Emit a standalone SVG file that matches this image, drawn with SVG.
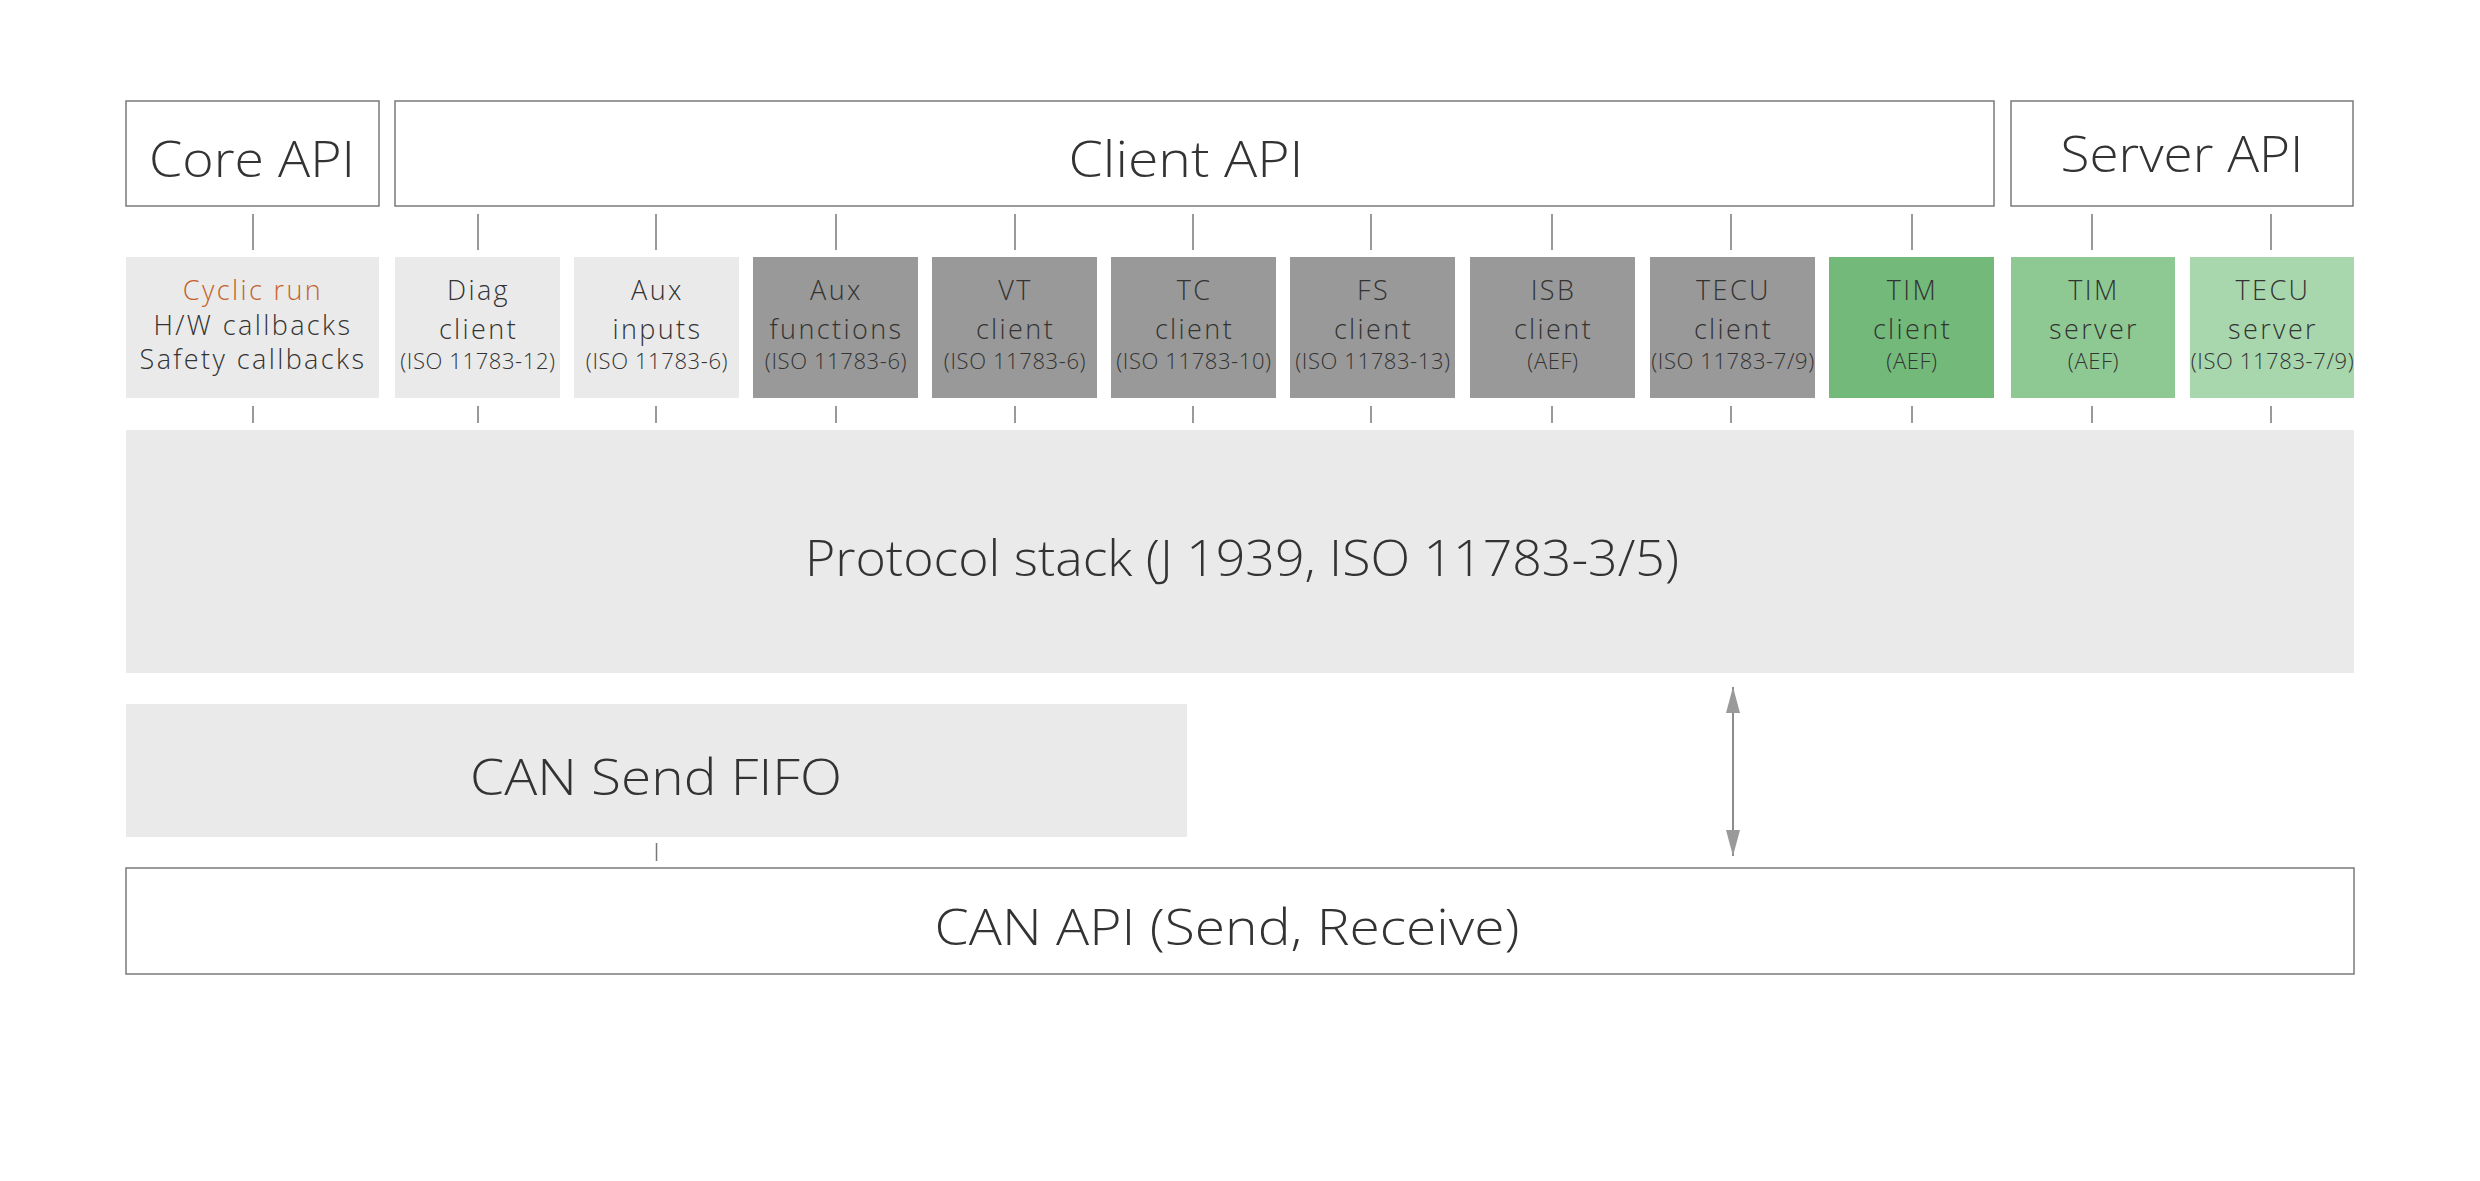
<svg xmlns="http://www.w3.org/2000/svg" width="2480" height="1181" viewBox="0 0 2480 1181">
<style>
.frame{fill:#ffffff;stroke:#7a7a7a;stroke-width:1.5}
.light{fill:#eaeaea}
.dark{fill:#999999}
.g1{fill:#72b97a}
.g2{fill:#8ec993}
.g3{fill:#a9d7ad}
text{font-family:"Open Sans","Liberation Sans",sans-serif;font-weight:300;fill:#333333;text-anchor:middle}
.big{font-size:49px}
.mid{font-size:27px;letter-spacing:2.4px}
.sm{font-size:22px;letter-spacing:0.6px}
.orange{fill:#c4622d}
.conn line{stroke:#777777;stroke-width:1.5}
</style>
<defs>
<marker id="ah" markerWidth="26" markerHeight="14" refX="26" refY="7" orient="auto-start-reverse" markerUnits="userSpaceOnUse">
<path d="M0,0 L26,7 L0,14 Z" fill="#9a9a9a"/>
</marker>
</defs>
<rect width="2480" height="1181" fill="#ffffff"/>

<g id="core-api"><rect class="frame" x="126" y="101" width="253" height="105"/><text class="big" x="252" y="177" textLength="206" lengthAdjust="spacingAndGlyphs">Core API</text></g>
<g id="client-api"><rect class="frame" x="395" y="101" width="1599" height="105"/><text class="big" x="1186" y="177" textLength="235" lengthAdjust="spacingAndGlyphs">Client API</text></g>
<g id="server-api"><rect class="frame" x="2011" y="101" width="342" height="105"/><text class="big" x="2182" y="172" textLength="243" lengthAdjust="spacingAndGlyphs">Server API</text></g>

<g id="core-functions"><rect class="light" x="126" y="257" width="253" height="141"/>
<text class="mid orange" x="253" y="300">Cyclic run</text>
<text class="mid" x="253" y="335">H/W callbacks</text>
<text class="mid" x="253" y="369">Safety callbacks</text></g>

<g id="diag-client"><rect class="light" x="395" y="257" width="165" height="141"/>
<text class="mid" x="478.5" y="300">Diag</text><text class="mid" x="478.5" y="339">client</text><text class="sm" x="478" y="369">(ISO 11783-12)</text></g>
<g id="aux-inputs"><rect class="light" x="574" y="257" width="165" height="141"/>
<text class="mid" x="657.5" y="300">Aux</text><text class="mid" x="657.5" y="339">inputs</text><text class="sm" x="657" y="369">(ISO 11783-6)</text></g>
<g id="aux-functions"><rect class="dark" x="753" y="257" width="165" height="141"/>
<text class="mid" x="836.5" y="300">Aux</text><text class="mid" x="836.5" y="339">functions</text><text class="sm" x="836" y="369">(ISO 11783-6)</text></g>
<g id="vt-client"><rect class="dark" x="932" y="257" width="165" height="141"/>
<text class="mid" x="1015.5" y="300">VT</text><text class="mid" x="1015.5" y="339">client</text><text class="sm" x="1015" y="369">(ISO 11783-6)</text></g>
<g id="tc-client"><rect class="dark" x="1111" y="257" width="165" height="141"/>
<text class="mid" x="1194.5" y="300">TC</text><text class="mid" x="1194.5" y="339">client</text><text class="sm" x="1194" y="369">(ISO 11783-10)</text></g>
<g id="fs-client"><rect class="dark" x="1290" y="257" width="165" height="141"/>
<text class="mid" x="1373.5" y="300">FS</text><text class="mid" x="1373.5" y="339">client</text><text class="sm" x="1373" y="369">(ISO 11783-13)</text></g>
<g id="isb-client"><rect class="dark" x="1470" y="257" width="165" height="141"/>
<text class="mid" x="1553.5" y="300">ISB</text><text class="mid" x="1553.5" y="339">client</text><text class="sm" x="1553" y="369">(AEF)</text></g>
<g id="tecu-client"><rect class="dark" x="1650" y="257" width="165" height="141"/>
<text class="mid" x="1733.5" y="300">TECU</text><text class="mid" x="1733.5" y="339">client</text><text class="sm" x="1733" y="369">(ISO 11783-7/9)</text></g>
<g id="tim-client"><rect class="g1" x="1829" y="257" width="165" height="141"/>
<text class="mid" x="1912.5" y="300">TIM</text><text class="mid" x="1912.5" y="339">client</text><text class="sm" x="1912" y="369">(AEF)</text></g>
<g id="tim-server"><rect class="g2" x="2011" y="257" width="164" height="141"/>
<text class="mid" x="2094" y="300">TIM</text><text class="mid" x="2094" y="339">server</text><text class="sm" x="2093.5" y="369">(AEF)</text></g>
<g id="tecu-server"><rect class="g3" x="2190" y="257" width="164" height="141"/>
<text class="mid" x="2273" y="300">TECU</text><text class="mid" x="2273" y="339">server</text><text class="sm" x="2272.5" y="369">(ISO 11783-7/9)</text></g>

<g id="protocol-stack"><rect class="light" x="126" y="430" width="2228" height="243"/><text class="big" x="1242" y="576" textLength="874" lengthAdjust="spacingAndGlyphs">Protocol stack (J 1939, ISO 11783-3/5)</text></g>
<g id="can-send-fifo"><rect class="light" x="126" y="704" width="1061" height="133"/><text class="big" x="656" y="795" textLength="372" lengthAdjust="spacingAndGlyphs">CAN Send FIFO</text></g>
<g id="can-api"><rect class="frame" x="126" y="868" width="2228" height="106"/><text class="big" x="1227" y="945" textLength="585" lengthAdjust="spacingAndGlyphs">CAN API (Send, Receive)</text></g>

<g id="connectors" class="conn">
<line x1="253" y1="214" x2="253" y2="250"/><line x1="478" y1="214" x2="478" y2="250"/><line x1="656" y1="214" x2="656" y2="250"/>
<line x1="836" y1="214" x2="836" y2="250"/><line x1="1015" y1="214" x2="1015" y2="250"/><line x1="1193" y1="214" x2="1193" y2="250"/>
<line x1="1371" y1="214" x2="1371" y2="250"/><line x1="1552" y1="214" x2="1552" y2="250"/><line x1="1731" y1="214" x2="1731" y2="250"/>
<line x1="1912" y1="214" x2="1912" y2="250"/><line x1="2092" y1="214" x2="2092" y2="250"/><line x1="2271" y1="214" x2="2271" y2="250"/>
<line x1="253" y1="406" x2="253" y2="423"/><line x1="478" y1="406" x2="478" y2="423"/><line x1="656" y1="406" x2="656" y2="423"/>
<line x1="836" y1="406" x2="836" y2="423"/><line x1="1015" y1="406" x2="1015" y2="423"/><line x1="1193" y1="406" x2="1193" y2="423"/>
<line x1="1371" y1="406" x2="1371" y2="423"/><line x1="1552" y1="406" x2="1552" y2="423"/><line x1="1731" y1="406" x2="1731" y2="423"/>
<line x1="1912" y1="406" x2="1912" y2="423"/><line x1="2092" y1="406" x2="2092" y2="423"/><line x1="2271" y1="406" x2="2271" y2="423"/>
<line x1="656.5" y1="843" x2="656.5" y2="861"/>
<line x1="1733" y1="687" x2="1733" y2="856" style="stroke:#666666" marker-start="url(#ah)" marker-end="url(#ah)"/>
</g>
</svg>
